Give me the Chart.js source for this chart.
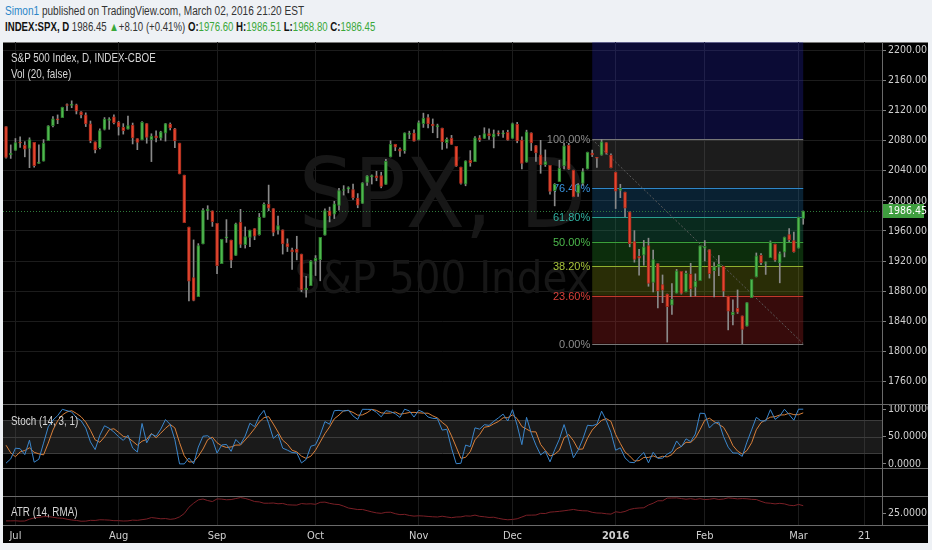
<!DOCTYPE html>
<html>
<head>
<meta charset="utf-8">
<title>SPX daily</title>
<script src="https://cdn.jsdelivr.net/npm/chart.js@4.4.1/dist/chart.umd.min.js"></script>
<style>
  html, body { margin: 0; padding: 0; }
  body {
    width: 932px; height: 550px; overflow: hidden; position: relative;
    background: #eef1f5;
    font-family: "Liberation Sans", Arial, sans-serif;
  }
  .head { position: absolute; left: 5px; font-size: 12.5px; color: #333; white-space: nowrap; transform-origin: 0 0; }
  #line1 { top: 4px; transform: scaleX(0.805); }
  #line2 { top: 20px; transform: scaleX(0.77); }
  .user { color: #2b86c8; }
  .bold { font-weight: bold; color: #111; }
  .up { color: #3aa83a; }
  #board { position: absolute; left: 3px; top: 42px; width: 925px; height: 501px; background: #000; border-top: 1px solid #777; box-sizing: border-box; }
  canvas { position: absolute; left: 3px; }
  .sep { position: absolute; left: 3px; width: 925px; height: 1px; background: #6a6a6a; }
  .legend { position: absolute; left: 11px; font-size: 12px; color: #d6d6d6; white-space: nowrap; transform: scaleX(0.82); transform-origin: 0 0; }
</style>
</head>
<body>

<div class="head" id="line1"><span class="user">Simon1</span> published on TradingView.com, March 02, 2016 21:20 EST</div>
<div class="head" id="line2"><span class="bold">INDEX:SPX, D</span> 1986.45 <span class="up">&#9650;</span>+8.10 (+0.41%) <span class="bold">O:</span><span class="up">1976.60</span> <span class="bold">H:</span><span class="up">1986.51</span> <span class="bold">L:</span><span class="up">1968.80</span> <span class="bold">C:</span><span class="up">1986.45</span></div>

<div id="board"></div>
<canvas id="priceChart" width="925" height="362" style="top:42px"></canvas>
<canvas id="stochChart" width="925" height="64" style="top:404px"></canvas>
<canvas id="emptyChart" width="925" height="28" style="top:468px"></canvas>
<canvas id="atrChart" width="925" height="47" style="top:496px"></canvas>

<div class="sep" style="top:404px"></div>
<div class="sep" style="top:468px"></div>
<div class="sep" style="top:496px"></div>
<div class="sep" style="top:525px"></div>

<div class="legend" style="top:51px">S&amp;P 500 Index, D, INDEX-CBOE</div>
<div class="legend" style="top:67px">Vol (20, false)</div>
<div class="legend" style="top:414px">Stoch (14, 3, 1)</div>
<div class="legend" style="top:505px">ATR (14, RMA)</div>

<script>
// Daily candles, Jun 29 2015 .. Mar 2 2016 (x = trading day number)
const opens = [2098.63,2061.19,2067.00,2078.03,2073.95,2069.52,2077.66,2049.73,2052.74,2080.03,
  2099.72,2109.01,2110.55,2126.80,2126.85,2127.55,2118.21,2114.16,2102.24,2078.19,
  2070.75,2094.70,2106.78,2111.60,2104.49,2097.68,2095.27,2100.75,2082.61,2080.98,
  2102.66,2081.10,2086.19,2083.15,2089.70,2101.99,2095.69,2076.61,2034.08,1965.15,
  1898.08,1872.75,1942.77,1986.06,1986.73,1970.09,1916.52,1950.79,1947.76,1927.30,
  1971.45,1941.59,1951.45,1963.06,1955.10,1978.02,1995.33,1989.66,1960.84,1961.39,
  1943.24,1934.81,1935.93,1929.18,1881.90,1887.14,1919.65,1921.77,1954.33,1986.63,
  1982.34,1994.01,2013.73,2015.65,2015.00,2003.66,1996.47,2024.37,2031.73,2033.13,
  2033.47,2021.88,2058.19,2075.08,2068.75,2066.48,2088.35,2090.00,2080.76,2102.63,
  2110.60,2101.68,2098.60,2096.56,2077.19,2083.41,2072.29,2044.64,2022.08,2053.67,
  2051.99,2083.70,2082.82,2089.41,2084.42,2089.30,2088.82,2090.95,2082.93,2101.71,
  2080.71,2051.24,2090.42,2073.39,2061.17,2047.93,2047.27,2013.37,2025.55,2046.50,
  2073.76,2040.81,2010.27,2023.15,2042.20,2063.52,2057.77,2060.54,2077.34,2060.59,
  2038.20,2013.78,2011.71,1985.32,1945.97,1926.12,1927.83,1940.34,1891.68,1916.68,
  1888.66,1876.18,1861.46,1877.40,1906.28,1878.79,1902.52,1885.22,1894.00,1936.94,
  1935.26,1907.07,1911.67,1913.07,1873.25,1848.46,1857.10,1847.00,1833.40,1871.44,
  1898.80,1927.57,1916.74,1924.44,1942.38,1917.56,1931.87,1954.95,1947.13,1937.09,
  1976.60];
const highs = [2098.63,2074.28,2082.78,2085.06,2078.61,2083.74,2077.66,2074.28,2081.31,2099.88,
  2111.98,2114.14,2124.42,2128.91,2132.82,2128.49,2118.51,2116.87,2106.01,2078.19,
  2095.60,2110.60,2110.48,2114.24,2105.70,2102.51,2112.66,2103.32,2082.61,2105.35,
  2102.66,2089.06,2092.93,2092.45,2102.87,2103.47,2096.17,2076.61,2034.08,1965.15,
  1948.04,1943.09,1989.60,1993.48,1986.73,1970.09,1948.91,1975.01,1947.76,1970.42,
  1988.63,1965.29,1961.05,1963.06,1983.19,1997.26,2020.86,1989.66,1979.64,1961.39,
  1949.52,1937.17,1952.89,1929.18,1899.48,1920.53,1927.21,1951.36,1989.17,1991.62,
  1999.31,2016.50,2020.13,2018.66,2022.34,2009.56,2024.15,2033.54,2034.45,2039.12,
  2037.97,2055.20,2079.74,2075.14,2070.37,2090.35,2092.52,2094.32,2106.20,2116.48,
  2114.59,2108.78,2101.91,2096.56,2083.67,2086.94,2072.29,2044.64,2053.22,2066.69,
  2085.31,2086.74,2097.06,2095.61,2094.12,2093.00,2093.29,2093.81,2103.37,2104.27,
  2085.00,2093.84,2090.42,2073.85,2080.33,2067.65,2047.27,2022.92,2053.87,2076.72,
  2076.37,2040.81,2022.90,2042.74,2064.73,2067.36,2057.77,2081.56,2077.34,2062.54,
  2038.20,2021.94,2011.71,1985.32,1960.40,1935.65,1947.38,1950.33,1934.47,1916.68,
  1901.44,1876.18,1889.85,1908.85,1906.28,1906.73,1916.99,1902.96,1940.24,1947.20,
  1935.26,1918.01,1927.35,1913.07,1873.25,1868.25,1881.60,1847.00,1864.78,1895.77,
  1930.68,1930.00,1918.78,1946.70,1942.38,1932.08,1951.83,1962.96,1958.27,1978.35,
  1986.51];
const lows = [2056.64,2056.32,2067.00,2071.02,2058.40,2044.02,2044.66,2049.73,2052.74,2080.03,
  2098.18,2102.49,2110.55,2119.88,2123.66,2115.40,2110.00,2098.63,2077.09,2063.52,
  2069.09,2094.08,2094.97,2102.07,2087.31,2088.60,2095.27,2075.53,2067.91,2080.98,
  2076.49,2052.09,2078.26,2080.61,2079.30,2094.14,2070.53,2035.73,1970.89,1867.01,
  1867.08,1872.75,1942.77,1975.19,1965.98,1903.07,1916.52,1944.72,1911.21,1927.30,
  1937.88,1937.19,1939.19,1948.27,1954.30,1977.93,1986.73,1953.45,1955.80,1929.22,
  1932.57,1908.92,1921.50,1879.21,1871.91,1887.14,1900.70,1893.70,1954.33,1971.99,
  1976.44,1987.53,2007.61,2010.55,2001.78,1990.73,1996.47,2020.46,2022.31,2026.61,
  2017.22,2021.88,2058.19,2066.53,2058.84,2063.11,2082.63,2079.34,2080.76,2097.51,
  2096.98,2090.41,2083.74,2068.24,2069.91,2074.85,2045.66,2022.02,2019.94,2045.90,
  2051.99,2078.76,2082.82,2081.39,2070.29,2086.30,2084.13,2080.41,2082.93,2077.11,
  2042.35,2051.24,2066.78,2052.32,2036.53,2045.67,2008.80,1993.26,2025.55,2042.43,
  2041.66,2005.33,2005.93,2020.49,2042.20,2058.73,2044.20,2060.54,2061.97,2043.62,
  1989.68,2004.17,1979.05,1938.83,1918.46,1901.10,1914.35,1886.41,1878.93,1857.83,
  1864.60,1812.29,1848.98,1877.40,1875.97,1878.79,1872.70,1873.65,1894.00,1920.03,
  1897.29,1872.23,1900.52,1872.65,1828.46,1834.94,1850.32,1810.10,1833.40,1871.44,
  1898.80,1915.09,1902.17,1924.44,1919.44,1891.00,1925.41,1945.78,1931.81,1937.09,
  1968.80];
const closes = [2057.64,2063.11,2077.42,2076.78,2068.76,2081.34,2046.68,2051.31,2076.62,2099.60,
  2108.95,2107.40,2124.29,2126.64,2128.28,2119.21,2114.15,2102.15,2079.65,2067.64,
  2093.25,2108.57,2108.63,2103.84,2098.04,2093.32,2099.84,2083.56,2077.57,2104.18,
  2084.07,2086.05,2083.39,2091.54,2102.44,2096.92,2079.61,2035.73,1970.89,1893.21,
  1867.61,1940.51,1987.66,1988.87,1972.18,1913.85,1948.86,1951.13,1921.22,1969.41,
  1942.04,1952.29,1961.05,1953.03,1978.09,1995.31,1990.20,1958.03,1966.97,1942.74,
  1938.76,1932.24,1931.34,1881.77,1884.09,1920.03,1923.82,1951.36,1987.05,1979.92,
  1995.83,2013.43,2014.89,2017.46,2003.69,1994.24,2023.86,2033.11,2033.66,2030.77,
  2018.94,2052.51,2075.15,2071.18,2065.89,2090.35,2089.41,2079.36,2104.05,2109.79,
  2102.31,2099.93,2099.20,2078.58,2081.72,2075.00,2045.97,2023.04,2053.19,2050.44,
  2083.58,2081.24,2089.17,2086.59,2089.14,2088.87,2090.11,2080.41,2102.63,2079.51,
  2049.62,2091.69,2077.07,2063.59,2047.62,2052.23,2012.37,2021.94,2043.41,2073.07,
  2041.89,2005.55,2021.15,2038.97,2064.29,2060.99,2056.50,2078.36,2063.36,2043.94,
  2012.66,2016.71,1990.26,1943.09,1922.03,1923.67,1938.68,1890.28,1921.84,1880.33,
  1881.33,1859.33,1868.99,1906.90,1877.08,1903.63,1882.95,1893.36,1940.24,1939.38,
  1903.03,1912.53,1915.45,1880.05,1853.44,1852.21,1851.86,1829.08,1864.78,1895.58,
  1926.82,1917.83,1917.78,1945.50,1921.27,1929.80,1951.70,1948.05,1932.23,1978.35,
  1986.45];

// Stochastic %K and %D, same days
const stochK = [1.4,9.2,28.7,27.8,16.9,43.5,3.1,8.5,38.0,67.8,80.2,88.1,99.8,97.3,94.9,84.7,79.0,65.5,40.1,26.1,
  52.4,69.7,65.1,58.2,49.8,43.0,52.4,28.9,21.6,73.9,38.5,54.6,50.4,63.5,81.0,72.1,44.3,0.0,0.0,10.7,
  0.3,30.8,50.6,51.5,44.5,19.8,34.6,35.6,22.9,44.7,35.8,51.0,74.4,68.0,87.3,97.9,74.0,46.7,54.2,28.8,
  25.1,20.8,20.0,1.8,8.2,32.3,34.9,53.3,77.3,72.5,97.3,97.9,96.5,98.2,87.6,81.3,99.8,99.7,99.5,94.3,
  86.1,97.3,95.7,91.7,85.0,100,96.9,85.6,98.1,94.4,85.7,83.3,82.6,61.8,63.3,28.8,0.4,1.1,34.4,31.6,
  65.9,63.5,71.7,70.4,77.9,84.1,91.0,78.4,99.1,70.6,35.2,85.1,56.1,34.3,16.4,23.2,3.7,25.8,45.2,71.9,
  43.8,11.1,25.1,45.4,70.6,69.7,72.6,96.4,79.4,57.4,25.0,29.4,10.9,3.0,2.2,12.5,20.8,2.0,21.2,10.1,
  10.5,17.7,22.7,41.9,30.9,45.8,40.8,54.7,92.7,92.1,65.7,74.3,76.5,50.2,30.5,20.0,19.7,13.8,39.9,62.3,
  85.1,78.6,78.5,99.1,81.4,87.6,99.9,90.2,79.9,100,100];
const stochD = [34.1,20.2,13.1,21.9,24.5,29.4,21.2,18.4,16.5,38.1,62.0,78.7,89.4,95.1,97.3,92.3,86.2,76.4,61.5,43.9,
  39.5,49.4,62.4,64.3,57.7,50.3,48.4,41.4,34.3,41.5,44.7,55.7,47.8,56.2,65.0,72.2,65.8,38.8,14.8,3.6,
  3.7,13.9,27.2,44.3,48.9,38.6,33.0,30.0,31.0,34.4,34.5,43.8,53.7,64.5,76.6,84.4,86.4,72.9,58.3,43.2,
  36.0,24.9,22.0,14.2,10.0,14.1,25.1,40.2,55.2,67.7,82.4,89.2,97.2,97.5,94.1,89.0,89.6,93.6,99.7,97.8,
  93.3,92.6,93.0,94.9,90.8,92.2,93.9,94.2,93.5,92.7,92.7,87.8,83.9,75.9,69.2,51.3,30.8,10.1,12.0,22.4,
  44.0,53.7,67.0,68.5,73.3,77.5,84.3,84.5,89.5,82.7,68.3,63.6,58.8,58.5,35.6,24.6,14.4,17.6,24.9,47.6,
  53.6,42.3,26.7,27.2,47.0,61.9,71.0,79.6,82.8,77.7,53.9,37.3,21.8,14.4,5.4,5.9,11.8,11.8,14.7,11.1,
  13.9,12.8,17.0,27.4,31.8,39.5,39.2,47.1,62.7,79.8,83.5,77.4,72.2,67.0,52.4,33.6,23.4,17.8,24.5,38.7,
  62.4,75.3,80.7,85.4,86.3,89.4,89.6,92.6,90.0,90.0,93.3];

// ATR (14, RMA), same days
const atrValues = [18.1,18.1,18.2,17.9,18.0,19.6,20.8,21.3,21.9,22.0,21.4,20.7,20.5,19.6,18.9,18.5,17.8,17.9,18.6,18.5,
  19.1,19.0,18.8,18.3,18.3,18.0,18.1,18.8,18.6,19.2,19.8,21.1,20.6,20.0,20.2,19.5,20.0,21.7,24.7,30.4,
  34.0,37.0,37.8,36.4,35.5,37.9,37.7,37.1,37.3,38.2,39.1,38.3,37.1,35.5,35.2,34.0,34.0,34.2,33.5,33.8,
  32.6,32.4,32.3,33.7,33.3,33.5,33.0,34.8,35.0,33.9,33.1,32.8,31.4,29.7,29.0,28.3,28.4,27.3,26.2,25.3,
  24.9,25.8,25.9,24.6,23.7,24.0,23.0,22.4,22.7,22.5,22.1,21.8,21.6,22.3,21.6,21.0,21.6,21.7,22.6,22.4,
  23.3,22.2,21.8,21.2,21.4,20.4,19.6,19.1,19.4,20.0,21.6,23.2,23.3,23.4,24.9,24.7,26.0,26.3,26.7,27.2,
  27.8,28.4,27.6,27.2,27.1,25.8,25.2,25.1,24.5,24.2,26.3,25.7,26.6,28.4,29.3,29.7,29.9,32.4,34.0,36.2,
  36.2,38.6,38.7,38.8,38.2,37.6,38.1,37.4,38.1,37.3,37.6,38.2,37.4,37.8,38.8,38.4,37.9,38.2,38.0,37.5,
  37.3,35.7,34.3,34.0,33.4,33.9,33.4,32.2,31.8,32.9,31.8];

// Axis ticks
const monthTicks = [2, 24, 45, 66, 88, 108, 130, 149, 169, 183];
const monthLabels = ['Jul', 'Aug', 'Sep', 'Oct', 'Nov', 'Dec', '2016', 'Feb', 'Mar', '21'];
const priceTicks = [1760, 1800, 1840, 1880, 1920, 1960, 2000, 2040, 2080, 2120, 2160, 2200];
const stochTicks = [0, 50, 100];
const atrTicks = [25];

// Fib retracement drawing (Dec 24 -> Mar 2, from the Dec 29 high to the Feb 11 low)
const fibLevels = [0, 0.236, 0.382, 0.5, 0.618, 0.764, 1, 1.618];
const fibStart = 125;
const fibEnd = 170;
const fibHigh = 2081.56;
const fibLow = 1810.10;
const lastPrice = 1986.45;

const FONT = '"Liberation Sans Narrow", "DejaVu Sans Condensed", sans-serif';
const GRID = '#1c1c1c';

// shared time axis
function timeScale(showLabels) {
  return {
    type: 'linear', min: -0.65, max: 186.8, offset: false,
    afterBuildTicks: (s) => { s.ticks = monthTicks.map(v => ({ value: v })); },
    afterFit: (s) => {
      s.paddingLeft = 0; s.paddingRight = 0;
      s.height = showLabels ? 18 : 0;
    },
    grid: { color: GRID, drawTicks: false, offset: false },
    border: { display: false },
    ticks: {
      display: showLabels, autoSkip: false, maxRotation: 0, padding: 5, color: '#cfcfcf',
      font: (c) => ({ family: FONT, size: 11, weight: (c.tick && c.tick.value === 130) ? 'bold' : 'normal' }),
      callback: (v) => monthLabels[monthTicks.indexOf(v)]
    }
  };
}

// shared right hand value axis
function valueScale(min, max, ticks, digits, gridLines) {
  return {
    position: 'right', min: min, max: max,
    afterBuildTicks: (s) => { s.ticks = ticks.map(v => ({ value: v })); },
    afterFit: (s) => { s.width = 46; s.paddingTop = 0; s.paddingBottom = 0; },
    grid: { color: GRID, tickColor: '#808080', tickLength: 4, drawOnChartArea: gridLines },
    border: { color: '#6a6a6a' },
    ticks: {
      color: '#cfcfcf', padding: 2, crossAlign: 'near',
      font: { family: FONT, size: 10.5 },
      callback: (v) => v.toFixed(digits)
    }
  };
}

const baseOptions = {
  responsive: false,
  animation: false,
  layout: { padding: 0 },
  plugins: { legend: { display: false }, tooltip: { enabled: false } }
};

// Fib zones, watermark and last price line
const zoneColors = ['rgba(170,35,35,0.32)', 'rgba(135,150,20,0.30)', 'rgba(40,150,40,0.30)',
  'rgba(30,140,100,0.30)', 'rgba(30,110,165,0.30)', 'rgba(110,110,110,0.25)', 'rgba(40,40,190,0.28)'];
const levelColors = ['#777777', '#c0392b', '#8fb030', '#3aa03a', '#2a9d8f', '#2f86c8', '#777777'];
const labelColors = ['#8c8c8c', '#d9403a', '#a8c43c', '#4cb84c', '#30b0a0', '#3a95e0', '#8c8c8c'];

const drawingsPlugin = {
  id: 'drawings',
  beforeDatasetsDraw(chart) {
    const { ctx, chartArea: a, scales: { x, y } } = chart;
    ctx.save();
    ctx.beginPath();
    ctx.rect(a.left, a.top, a.right - a.left, a.bottom - a.top);
    ctx.clip();

    // watermark
    const mid = (a.left + a.right) / 2;
    ctx.fillStyle = '#171717';
    ctx.textAlign = 'center';
    ctx.textBaseline = 'alphabetic';
    ctx.font = '96px ' + FONT;
    ctx.fillText('SPX, D', mid, a.top + 185);
    ctx.font = '45px ' + FONT;
    ctx.fillText('S&P 500 Index', mid, a.top + 251);

    // fib zones
    const x0 = x.getPixelForValue(fibStart);
    const x1 = x.getPixelForValue(fibEnd);
    const priceAt = (lvl) => fibLow + (fibHigh - fibLow) * lvl;
    for (let i = 0; i < fibLevels.length - 1; i++) {
      const yA = y.getPixelForValue(priceAt(fibLevels[i]));
      const yB = y.getPixelForValue(priceAt(fibLevels[i + 1]));
      ctx.fillStyle = zoneColors[i];
      ctx.fillRect(x0, yB, x1 - x0, yA - yB);
    }
    ctx.lineWidth = 1;
    ctx.font = '11px "Liberation Sans", Arial, sans-serif';
    ctx.textAlign = 'right';
    ctx.textBaseline = 'middle';
    for (let i = 0; i < fibLevels.length - 1; i++) {
      const ly = Math.round(y.getPixelForValue(priceAt(fibLevels[i]))) + 0.5;
      ctx.strokeStyle = levelColors[i];
      ctx.beginPath(); ctx.moveTo(x0, ly); ctx.lineTo(x1, ly); ctx.stroke();
      ctx.fillStyle = labelColors[i];
      ctx.fillText((fibLevels[i] * 100).toFixed(2) + '%', x0 - 2, ly);
    }

    // trend line of the fib
    ctx.strokeStyle = '#5a5a5a';
    ctx.setLineDash([2, 2]);
    ctx.beginPath();
    ctx.moveTo(x0, y.getPixelForValue(fibHigh));
    ctx.lineTo(x1, y.getPixelForValue(fibLow));
    ctx.stroke();

    // last price line
    const py = Math.round(y.getPixelForValue(lastPrice)) + 0.5;
    ctx.strokeStyle = '#2f7a3a';
    ctx.setLineDash([1, 2]);
    ctx.beginPath(); ctx.moveTo(a.left, py); ctx.lineTo(a.right, py); ctx.stroke();
    ctx.restore();
  },
  afterDraw(chart) {
    const { ctx, chartArea: a, scales: { y } } = chart;
    const py = Math.round(y.getPixelForValue(lastPrice));
    ctx.save();
    ctx.fillStyle = '#3f9e3f';
    ctx.fillRect(a.right + 1, py - 7, 41, 14);
    ctx.fillStyle = '#ffffff';
    ctx.font = '10.5px ' + FONT;
    ctx.textAlign = 'left';
    ctx.textBaseline = 'middle';
    ctx.fillText(lastPrice.toFixed(2), a.right + 6, py + 0.5);
    ctx.restore();
  }
};

// Stoch band 80..20
const stochBandPlugin = {
  id: 'stochBand',
  beforeDatasetsDraw(chart) {
    const { ctx, chartArea: a, scales: { y } } = chart;
    const top = y.getPixelForValue(80);
    const bottom = y.getPixelForValue(20);
    ctx.save();
    ctx.fillStyle = 'rgba(120,120,120,0.22)';
    ctx.fillRect(a.left, top, a.right - a.left, bottom - top);
    ctx.strokeStyle = '#3c3c3c';
    ctx.lineWidth = 1;
    [80, 50, 20].forEach((v) => {
      const ly = Math.round(y.getPixelForValue(v)) + 0.5;
      ctx.beginPath(); ctx.moveTo(a.left, ly); ctx.lineTo(a.right, ly); ctx.stroke();
    });
    ctx.restore();
  }
};

// Charts
const upColor = '#4fb84f';
const downColor = '#e5452e';

let priceChart = new Chart(document.getElementById('priceChart'), {
  type: 'bar',
  data: {
    datasets: [
      {
        label: 'body',
        data: opens.map((o, i) => ({ x: i, y: [o, closes[i]] })),
        backgroundColor: closes.map((c, i) => c >= opens[i] ? upColor : downColor),
        borderColor: closes.map((c, i) => c >= opens[i] ? '#2b7a2b' : '#9c2a1c'),
        borderWidth: 1,
        borderSkipped: false,
        barThickness: 3,
        minBarLength: 1,
        grouped: false,
        order: 1
      },
      {
        label: 'wick',
        data: lows.map((l, i) => ({ x: i, y: [l, highs[i]] })),
        backgroundColor: '#8a8a8a',
        barThickness: 1,
        grouped: false,
        order: 2
      }
    ]
  },
  options: Object.assign({}, baseOptions, {
    scales: { x: timeScale(false), y: valueScale(1730, 2211, priceTicks, 2, true) }
  }),
  plugins: [drawingsPlugin]
});

let stochChart = new Chart(document.getElementById('stochChart'), {
  type: 'line',
  data: {
    datasets: [
      { data: stochK.map((v, i) => ({ x: i, y: v })), borderColor: '#3a86cc', borderWidth: 1, pointRadius: 0 },
      { data: stochD.map((v, i) => ({ x: i, y: v })), borderColor: '#d9803a', borderWidth: 1, pointRadius: 0 }
    ]
  },
  options: Object.assign({}, baseOptions, {
    scales: { x: timeScale(false), y: valueScale(-7.5, 109.5, stochTicks, 4, false) }
  }),
  plugins: [stochBandPlugin]
});

let emptyChart = new Chart(document.getElementById('emptyChart'), {
  type: 'line',
  data: { datasets: [{ data: [] }] },
  options: Object.assign({}, baseOptions, {
    scales: { x: timeScale(false), y: valueScale(0, 1, [], 0, false) }
  })
});

let atrChart = new Chart(document.getElementById('atrChart'), {
  type: 'line',
  data: {
    datasets: [
      { data: atrValues.map((v, i) => ({ x: i, y: v })), borderColor: '#7a1f26', borderWidth: 1, pointRadius: 0 }
    ]
  },
  options: Object.assign({}, baseOptions, {
    scales: { x: timeScale(true), y: valueScale(14.4, 40.5, atrTicks, 4, false) }
  })
});
</script>
</body>
</html>
